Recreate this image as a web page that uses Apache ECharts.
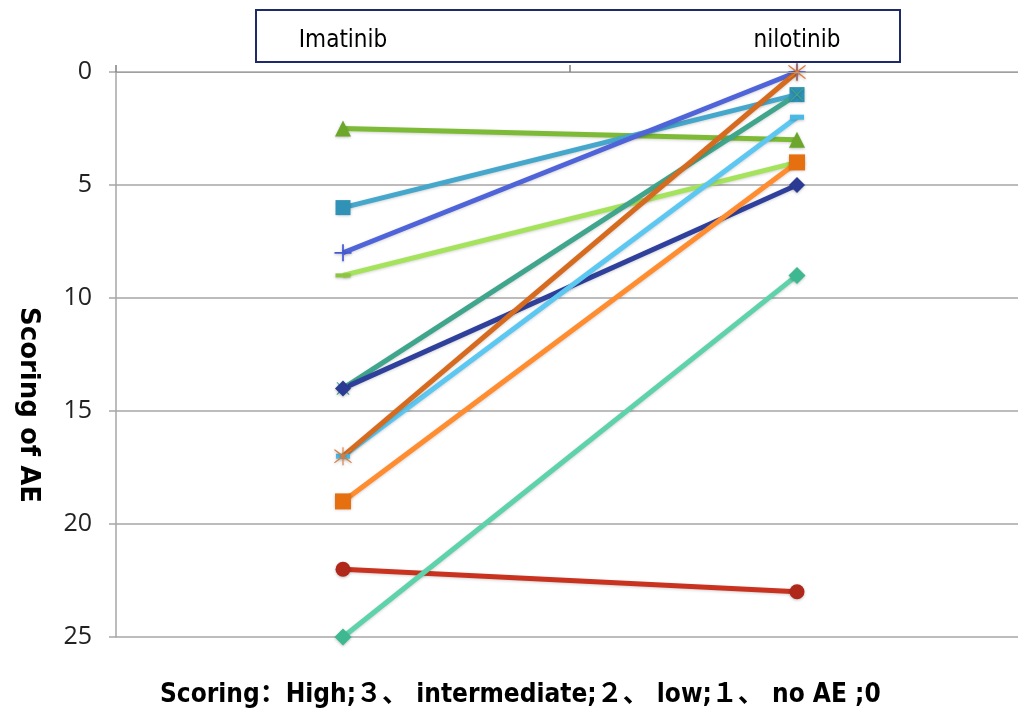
<!DOCTYPE html>
<html>
<head>
<meta charset="utf-8">
<script src="https://cdn.jsdelivr.net/npm/echarts@6/dist/echarts.min.js"></script>
<style>
  html, body { margin: 0; padding: 0; background: #fff; }
  #chart { width: 1018px; height: 713px; }
</style>
</head>
<body>
<div id="chart"></div>
<script>
// Two treatments on the category axis
const drugs = ['Imatinib', 'nilotinib'];

// AE score per patient: [Imatinib, nilotinib]
const patientA = [2.5, 3];
const patientB = [6, 1];
const patientC = [8, 0];
const patientD = [9, 4];
const patientE = [14, 1];
const patientF = [14, 5];
const patientG = [17, 0];
const patientH = [17, 2];
const patientI = [19, 4];
const patientJ = [22, 23];
const patientK = [25, 9];

const yTicks = { min: 0, max: 25, step: 5 };
const yTitle = 'Scoring of AE';
const footnote = 'Scoring：High;３、 intermediate;２、 low;１、 no AE ;0';

const plusPath = 'path://M9,0 L11,0 L11,9 L20,9 L20,11 L11,11 L11,20 L9,20 L9,11 L0,11 L0,9 L9,9 Z';
const xPath = 'path://M1,0 L10,8.6 L19,0 L20,1 L11.4,10 L20,19 L19,20 L10,11.4 L1,20 L0,19 L8.6,10 L0,1 Z';
const starPath = 'path://M1,0 L10,8.6 L19,0 L20,1 L11.4,10 L20,19 L19,20 L10,11.4 L1,20 L0,19 L8.6,10 L0,1 Z M9.4,-3 L10.6,-3 L10.6,23 L9.4,23 Z';

function line(data, color, markerColor, symbol, size) {
  return {
    type: 'line',
    data: data,
    symbol: symbol,
    symbolSize: size,
    lineStyle: { color: color, width: 5, shadowColor: 'rgba(0,0,0,0.18)', shadowBlur: 3, shadowOffsetY: 1 },
    itemStyle: { color: markerColor, shadowColor: 'rgba(0,0,0,0.25)', shadowBlur: 3, shadowOffsetY: 1 },
    emphasis: { disabled: true },
    z: 2
  };
}

const chart = echarts.init(document.getElementById('chart'));
chart.setOption({
  animation: false,
  backgroundColor: '#ffffff',
  // plot area runs a little past the right edge of the canvas
  grid: { left: 116, right: -6, top: 72, bottom: 76, containLabel: false, outerBoundsMode: 'none' },
  title: {
    text: footnote,
    left: 155,
    bottom: 0,
    textStyle: { fontFamily: 'DejaVu Sans Condensed, Noto Sans CJK SC', fontWeight: 'bold', fontSize: 26, color: '#000' }
  },
  graphic: [{
    type: 'rect',
    shape: { x: 256, y: 10, width: 644, height: 52 },
    style: { fill: '#ffffff', stroke: '#1F2A6B', lineWidth: 2 },
    z: 0
  }, {
    type: 'text',
    x: 28,
    y: 405,
    rotation: -Math.PI / 2,
    style: {
      text: yTitle,
      align: 'center',
      verticalAlign: 'middle',
      font: 'bold 26px "DejaVu Sans"',
      fill: '#000'
    },
    z: 5
  }],
  xAxis: {
    type: 'category',
    data: drugs,
    position: 'top',
    boundaryGap: true,
    axisLine: { show: true, lineStyle: { color: '#A0A0A0', width: 1 } },
    axisTick: { show: true, inside: false, length: 7, lineStyle: { color: '#808080', width: 1.5 } },
    axisLabel: { margin: 19, fontFamily: 'DejaVu Sans Condensed', fontSize: 24, color: '#000' },
    z: 3
  },
  yAxis: {
    type: 'value',
    inverse: true,
    min: yTicks.min,
    max: yTicks.max,
    interval: yTicks.step,
    axisLine: { show: true, lineStyle: { color: '#A6A6A6', width: 1.5 } },
    axisTick: { show: true, length: 7, lineStyle: { color: '#A6A6A6', width: 1.5 } },
    axisLabel: { margin: 24, fontFamily: 'Open Sans', fontSize: 25, color: '#222' },
    splitLine: { show: true, lineStyle: { color: '#A6A6A6', width: 1.5 } }
  },
  series: [
    line(patientA, '#7DBA36', '#6CA62A', 'triangle', 16),
    line(patientB, '#45A7CC', '#2F92B6', 'rect', 15),
    line(patientC, '#4F64D8', '#4459D2', plusPath, 17),
    line(patientD, '#A6E35C', '#8CC63F', 'rect', [15, 4]),
    line(patientE, '#3FA58C', '#3FA58C', xPath, 13),
    line(patientF, '#2F409C', '#2B3B93', 'diamond', 16),
    line(patientH, '#5CC8F2', '#4BB9E6', 'rect', [14, 5]),
    line(patientG, '#D66A1E', '#E07A35', starPath, 18),
    line(patientI, '#FF8C2E', '#E6700F', 'rect', 16),
    line(patientJ, '#C8321F', '#B0281A', 'circle', 15),
    line(patientK, '#5ED2AA', '#3DB890', 'diamond', 17)
  ]
});
</script>
</body>
</html>
